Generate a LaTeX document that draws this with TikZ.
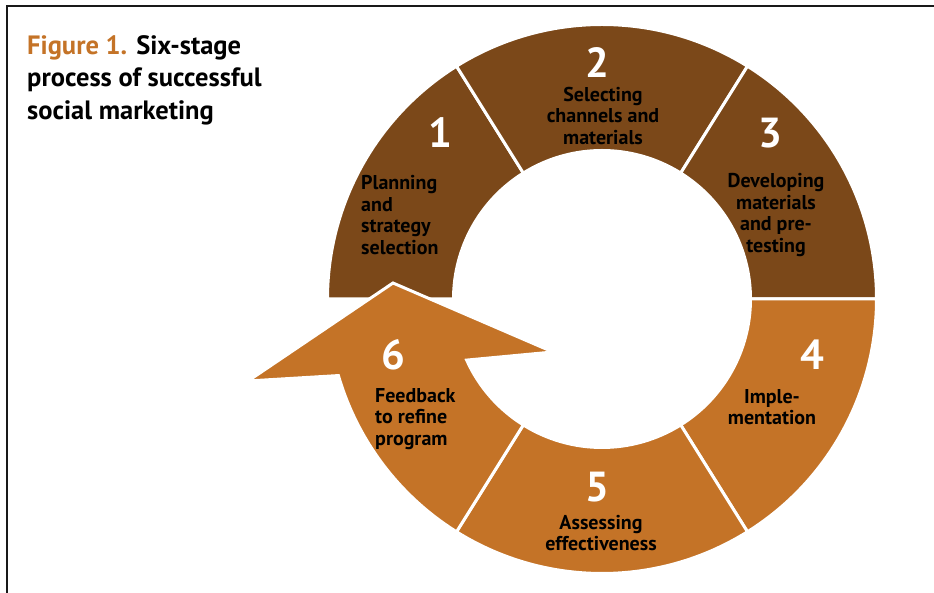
\documentclass[tikz,border=0pt]{standalone}
\usepackage{fontspec}
\setmainfont{PT Sans}
\definecolor{brn}{HTML}{7B4819}
\definecolor{org}{HTML}{C47327}
\begin{document}
\begin{tikzpicture}[x=1pt,y=1pt,
  seg/.style={draw=white,line width=3pt,line join=miter},
  num/.style={text=white,font=\fontsize{42}{42}\selectfont\bfseries,inner sep=0pt},
  lbl/.style={text=black,font=\fontsize{20}{21.5}\selectfont\bfseries,inner sep=0pt},
  ttl/.style={font=\fontsize{26.5}{33}\selectfont\bfseries,inner sep=0pt,anchor=base west}]
\useasboundingbox (0,0) rectangle (934,593);
\coordinate (C) at (602,294);
% frame
\draw[line width=2.5pt,black!90] (7,0) -- (7,587) -- (934,587);
% brown segments
\foreach \a/\b in {122/180,58/122,0/58}{
  \fill[brn,seg] ([shift={(C)}]\a:274.5) arc[start angle=\a,end angle=\b,radius=274.5]
    -- ([shift={(C)}]\b:148.5) arc[start angle=\b,end angle=\a,radius=148.5] -- cycle;
}
% orange segments
\foreach \a/\b in {-58/0,-122/-58}{
  \fill[org,seg] ([shift={(C)}]\a:274.5) arc[start angle=\a,end angle=\b,radius=274.5]
    -- ([shift={(C)}]\b:148.5) arc[start angle=\b,end angle=\a,radius=148.5] -- cycle;
}
% segment 6 with arrow
\coordinate (tipL) at (248,212);
\coordinate (tipT) at (393,310);
\coordinate (tipR) at (553,241);
\fill[org,seg] ([shift={(C)}]196.2:274.5) arc[start angle=196.2,end angle=238,radius=274.5]
  -- ([shift={(C)}]238:148.5) arc[start angle=238,end angle=204.3,radius=148.5]
  -- (tipR) -- (tipT) -- (tipL) -- cycle;
% numbers
\node[num] (n1) at (440,460) {1};
\node[num] (n2) at (597,530) {2};
\node[num] (n3) at (770,460) {3};
\node[num] (n4) at (812,238) {4};
\node[num] (n5) at (597,106) {5};
\node[num] (n6) at (393,238) {6};
% labels
\node[lbl,align=left,anchor=west] (l1) at (361,378) {Planning\\and\\strategy\\selection};
\node[lbl,align=center] (l2) at (603,477) {Selecting\\channels and\\materials};
\node[lbl,align=center] (l3) at (776,378) {Developing\\materials\\and pre-\\testing};
\node[lbl,align=center] (l4) at (772,186) {Imple-\\mentation};
\node[lbl,align=center] (l5) at (601,60) {Assessing\\effectiveness};
\node[lbl,align=left,anchor=west] (l6) at (375,174) {Feedback\\to refine\\program};
% title
\node[ttl] (t1) at (27,538) {\textcolor{org}{Figure 1.}\hspace{9pt}Six-stage};
\node[ttl] (t2) at (27,506) {process of successful};
\node[ttl] (t3) at (27,473) {social marketing};
\end{tikzpicture}
\end{document}
